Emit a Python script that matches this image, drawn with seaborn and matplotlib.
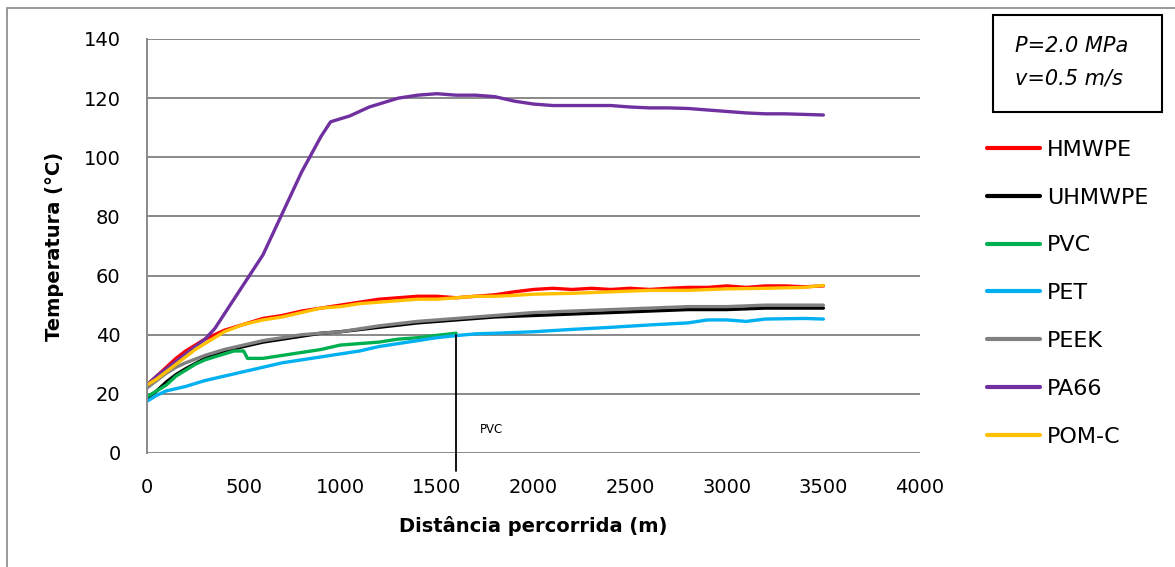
import numpy as np
import pandas as pd
import matplotlib
matplotlib.use("Agg")
import matplotlib.pyplot as plt
import seaborn as sns
from matplotlib.patches import Rectangle

# ---------------- data ----------------
x_hmwpe = [0, 50, 100, 150, 200, 250, 300, 350, 400, 500, 600, 700, 800, 900, 1000, 1100, 1200, 1300, 1400, 1500,
           1600, 1700, 1800, 1900, 2000, 2100, 2200, 2300, 2400, 2500, 2600, 2700, 2800, 2900, 3000, 3100, 3200,
           3300, 3400, 3500]
y_hmwpe = [23, 26, 29, 32, 34.5, 36.5, 38.5, 40, 41.5, 43.5, 45.5, 46.5, 48, 49, 50, 51, 52, 52.5, 53, 53,
           52.5, 53, 53.5, 54.5, 55.3, 55.7, 55.3, 55.7, 55.3, 55.7, 55.3, 55.7, 56, 56, 56.5, 56, 56.5,
           56.5, 56.2, 56.5]

x_uhmwpe = [0, 50, 100, 150, 200, 300, 400, 500, 600, 700, 800, 900, 1000, 1200, 1400, 1600, 1800, 2000, 2200,
            2400, 2600, 2800, 3000, 3200, 3400, 3500]
y_uhmwpe = [18.5, 21, 24, 26.5, 28.5, 32, 34.5, 36, 37.5, 38.5, 39.5, 40.5, 41, 42.5, 44, 45, 46, 46.5, 47,
            47.5, 48, 48.5, 48.5, 49, 49, 49]

x_pvc = [0, 50, 100, 150, 200, 250, 300, 400, 450, 500, 520, 600, 700, 800, 900, 1000, 1100, 1200, 1300, 1400,
         1500, 1600]
y_pvc = [19, 21, 23, 26, 28, 30, 31.5, 33.5, 34.5, 34.5, 32, 32, 33, 34, 35, 36.5, 37, 37.5, 38.5, 39,
         39.8, 40.5]

x_pet = [0, 50, 100, 200, 300, 400, 500, 600, 700, 800, 900, 1000, 1100, 1200, 1300, 1400, 1500, 1600, 1700,
         1800, 2000, 2200, 2400, 2600, 2800, 2900, 3000, 3100, 3200, 3400, 3500]
y_pet = [17.5, 19.5, 21, 22.5, 24.5, 26, 27.5, 29, 30.5, 31.5, 32.5, 33.5, 34.5, 36, 37, 38, 39, 39.7, 40.3,
         40.5, 41, 41.8, 42.5, 43.3, 44, 45, 45, 44.5, 45.3, 45.5, 45.3]

x_peek = [0, 50, 100, 150, 200, 300, 400, 500, 600, 700, 800, 900, 1000, 1200, 1400, 1600, 1800, 2000, 2200,
          2400, 2600, 2800, 3000, 3200, 3400, 3500]
y_peek = [22, 24.5, 27, 29, 30.5, 33, 35, 36.5, 38, 39, 40, 40.5, 41, 43, 44.5, 45.5, 46.5, 47.5, 48,
          48.5, 49, 49.5, 49.5, 50, 50, 50]

x_pa66 = [0, 50, 100, 150, 200, 250, 300, 350, 400, 450, 500, 550, 600, 650, 700, 750, 800, 850, 900, 950,
          1000, 1050, 1100, 1150, 1200, 1300, 1400, 1500, 1600, 1700, 1800, 1900, 2000, 2100, 2200, 2300, 2400,
          2500, 2600, 2700, 2800, 2900, 3000, 3100, 3200, 3300, 3400, 3500]
y_pa66 = [23, 26, 28.5, 31, 33.5, 36, 38.5, 42, 47, 52, 57, 62, 67, 74, 81, 88, 95, 101, 107, 112,
          113, 114, 115.5, 117, 118, 120, 121, 121.5, 121, 121, 120.5, 119, 118, 117.5, 117.5, 117.5, 117.5,
          117, 116.7, 116.7, 116.5, 116, 115.5, 115, 114.7, 114.7, 114.5, 114.3]

x_pomc = [0, 50, 100, 150, 200, 250, 300, 350, 400, 500, 600, 700, 800, 900, 1000, 1100, 1200, 1300, 1400, 1500,
          1600, 1700, 1800, 1900, 2000, 2200, 2400, 2600, 2800, 3000, 3200, 3400, 3500]
y_pomc = [23, 25, 27.5, 30, 32.5, 35, 37, 39, 41, 43.5, 45, 46, 47.5, 49, 49.5, 50.5, 51, 51.5, 52, 52,
          52.5, 53, 53, 53.3, 53.7, 54, 54.5, 55, 55, 55.5, 55.7, 56, 56.7]

series_names = ["HMWPE", "UHMWPE", "PVC", "PET", "PEEK", "PA66", "POM-C"]
series_x = [x_hmwpe, x_uhmwpe, x_pvc, x_pet, x_peek, x_pa66, x_pomc]
series_y = [y_hmwpe, y_uhmwpe, y_pvc, y_pet, y_peek, y_pa66, y_pomc]
series_colors = ["#FF0000", "#000000", "#00B050", "#00B0F0", "#808080", "#7030A0", "#FFC000"]

x_ticks = [0, 500, 1000, 1500, 2000, 2500, 3000, 3500, 4000]
y_ticks = [0, 20, 40, 60, 80, 100, 120, 140]

pvc_marker_x = 1600
pvc_marker_top = 40
pvc_label = "PVC"
box_text = "P=2.0 MPa\nv=0.5 m/s"

# ---------------- build long table ----------------
frames = []
for name, xs, ys in zip(series_names, series_x, series_y):
    frames.append(pd.DataFrame({"x": xs, "y": ys, "series": name}))
df = pd.concat(frames, ignore_index=True)

# ---------------- plot ----------------
sns.set_theme(style="white")
plt.rcParams["font.family"] = ["DejaVu Sans"]
plt.rcParams["text.color"] = "black"
plt.rcParams["axes.labelcolor"] = "black"
plt.rcParams["xtick.color"] = "black"
plt.rcParams["ytick.color"] = "black"

fig = plt.figure(figsize=(11.75, 5.67), dpi=100)
ax = fig.add_axes([147 / 1175, 1 - 453 / 567, (920 - 147) / 1175, (453 - 39) / 567])

sns.lineplot(data=df, x="x", y="y", hue="series", hue_order=series_names,
             palette=dict(zip(series_names, series_colors)), estimator=None, sort=False,
             linewidth=2.4, ax=ax, legend=True)

ax.set_xlim(0, 4000)
ax.set_ylim(0, 140)
ax.set_xticks(x_ticks)
ax.set_yticks(y_ticks)
ax.tick_params(axis="both", labelsize=14, length=0, colors="black")
ax.tick_params(axis="x", pad=18)
ax.tick_params(axis="y", pad=19)
ax.grid(axis="y", color="#898989", linewidth=1.4)
ax.grid(axis="x", visible=False)
ax.set_axisbelow(True)
for s in ["top", "right", "bottom"]:
    ax.spines[s].set_visible(False)
ax.spines["left"].set_color("#898989")
ax.spines["left"].set_linewidth(1.4)

ax.set_xlabel("Distância percorrida (m)", fontsize=14, fontweight="bold", labelpad=14, color="black")
ax.set_ylabel("Temperatura (°C)", fontsize=14, fontweight="bold", labelpad=14, color="black")

# PVC end marker
ax.plot([pvc_marker_x, pvc_marker_x], [pvc_marker_top, -6], color="black", linewidth=1.3, clip_on=False)
ax.text(pvc_marker_x + 120, 8, pvc_label, fontsize=8.5, va="center", ha="left")

# legend
handles, labels = ax.get_legend_handles_labels()
ax.get_legend().remove()
for h in handles:
    h.set_linewidth(3)
fig.legend(handles, labels, loc="upper left", bbox_to_anchor=(978 / 1175, 1 - 131 / 567),
           frameon=False, fontsize=16, handlelength=2.4, labelspacing=1.25, handletextpad=0.3,
           borderaxespad=0)

# parameter box
fig.text(1015 / 1175, 1 - 62 / 567, box_text, fontsize=15, style="italic", va="center", ha="left",
         linespacing=1.8)
fig.patches.append(Rectangle((993 / 1175, 1 - 112 / 567), (1162 - 993) / 1175, (112 - 15) / 567,
                             transform=fig.transFigure, fill=False, edgecolor="black", linewidth=1.5))

# outer chart border
fig.patches.append(Rectangle((7 / 1175, -0.05), 1.1, 1.05 - 8 / 567,
                             transform=fig.transFigure, fill=False, edgecolor="#898989", linewidth=1.2))

fig.savefig("out.png", dpi=100)
